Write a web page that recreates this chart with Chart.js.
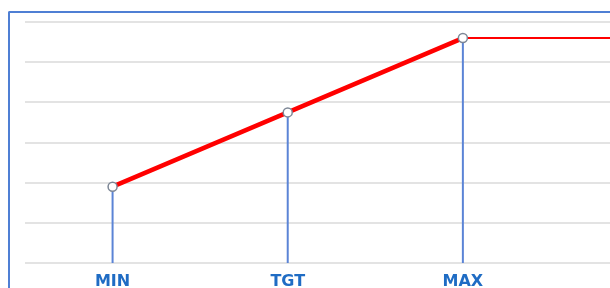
<!DOCTYPE html>
<html>
<head>
<meta charset="utf-8">
<script src="https://cdn.jsdelivr.net/npm/chart.js@4/dist/chart.umd.min.js"></script>
<style>
  html, body { margin: 0; padding: 0; background: #fff; overflow: hidden; }
  #wrap { position: relative; width: 610px; height: 288px; }
  #frame {
    position: absolute; left: 8px; top: 11px; width: 700px; height: 400px;
    border-left: 2px solid #4f7fd4; border-top: 2px solid #4f7fd4;
    border-top-left-radius: 2px; pointer-events: none;
  }
  canvas { position: absolute; left: 0; top: 0; }
</style>
</head>
<body>
<div id="wrap">
  <canvas id="chart" width="610" height="288"></canvas>
  <div id="frame"></div>
</div>
<script>
// threshold levels (0..6 grid)
const categories = ['MIN', 'TGT', 'MAX'];
const levels = [1.9, 3.75, 5.6];
const capEnd = 3; // flat line keeps going past MAX

const stemColor = '#5b84d6';

// vertical drop lines from each point to the axis
const stems = levels.map((v, i) => ({
    type: 'line',
    data: [{ x: i, y: 0 }, { x: i, y: v }],
    borderColor: stemColor,
    borderWidth: 2,
    pointRadius: 0,
    order: 3
}));

const ctx = document.getElementById('chart').getContext('2d');

new Chart(ctx, {
    type: 'line',
    data: {
        datasets: [
            {
                data: levels.map((v, i) => ({ x: i, y: v })),
                borderColor: '#ff0000',
                borderWidth: 4.5,
                pointRadius: 4.5,
                pointBackgroundColor: '#ffffff',
                pointBorderColor: '#7d8796',
                pointBorderWidth: 1.5,
                order: 1
            },
            {
                data: [{ x: 2, y: levels[2] }, { x: capEnd, y: levels[2] }],
                borderColor: '#ff0000',
                borderWidth: 2,
                pointRadius: 0,
                order: 2
            },
            ...stems
        ]
    },
    options: {
        responsive: false,
        animation: false,
        layout: { autoPadding: false, padding: { left: 25, top: 22, right: 0, bottom: 0 } },
        scales: {
            x: {
                type: 'linear',
                min: -0.5,
                max: 2.84,
                afterBuildTicks: (axis) => {
                    axis.ticks = categories.map((c, i) => ({ value: i }));
                },
                afterFit: (axis) => { axis.height = 25; },
                ticks: {
                    callback: (v) => categories[v] ?? '',
                    color: '#1f6cc4',
                    font: { family: 'DejaVu Sans', size: 16, weight: 'bold' },
                    padding: 9,
                    maxRotation: 0,
                    autoSkip: false
                },
                grid: { display: false, drawTicks: false },
                border: { display: false }
            },
            y: {
                min: 0,
                max: 6,
                ticks: { display: false, stepSize: 1 },
                grid: { color: '#e3e3e3', lineWidth: 2, drawTicks: false },
                border: { display: false }
            }
        },
        plugins: {
            legend: { display: false },
            tooltip: { enabled: false }
        }
    }
});
</script>
</body>
</html>
